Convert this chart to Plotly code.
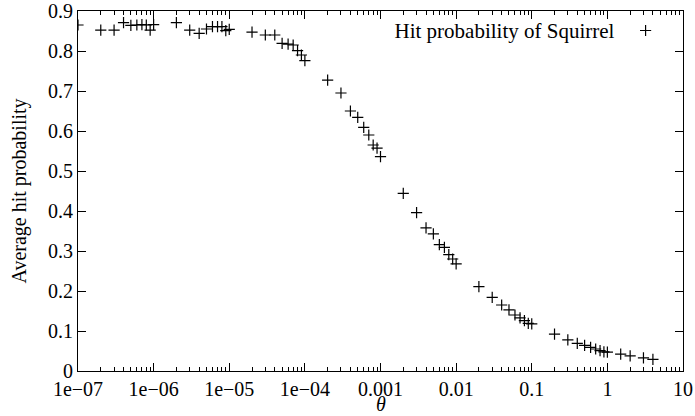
import plotly.graph_objects as go

theta = [
    1e-7, 2e-7, 3e-7, 4e-7, 5e-7, 6e-7, 7e-7, 8e-7, 9e-7,
    1e-6, 2e-6, 3e-6, 4e-6, 5e-6, 6e-6, 7e-6, 8e-6, 9e-6,
    1e-5, 2e-5, 3e-5, 4e-5, 5e-5, 6e-5, 7e-5, 8e-5, 9e-5,
    1e-4, 2e-4, 3e-4, 4e-4, 5e-4, 6e-4, 7e-4, 8e-4, 9e-4,
    1e-3, 2e-3, 3e-3, 4e-3, 5e-3, 6e-3, 7e-3, 8e-3, 9e-3,
    1e-2, 2e-2, 3e-2, 4e-2, 5e-2, 6e-2, 7e-2, 8e-2, 9e-2,
    0.1, 0.2, 0.3, 0.4, 0.5, 0.6, 0.7, 0.8, 0.9,
    1.0, 1.5, 2.0, 3.0, 4.0,
]
hit_prob = [
    0.865, 0.852, 0.852, 0.871, 0.864, 0.865, 0.866, 0.865, 0.852,
    0.866, 0.871, 0.852, 0.844, 0.855, 0.861, 0.861, 0.861, 0.851,
    0.854, 0.847, 0.840, 0.840, 0.819, 0.817, 0.815, 0.801, 0.790,
    0.776, 0.727, 0.695, 0.650, 0.634, 0.609, 0.590, 0.565, 0.557,
    0.536, 0.444, 0.396, 0.358, 0.343, 0.316, 0.309, 0.291, 0.280,
    0.268, 0.211, 0.184, 0.165, 0.153, 0.140, 0.133, 0.126, 0.119,
    0.118, 0.092, 0.078, 0.069, 0.064, 0.059, 0.055, 0.051, 0.048,
    0.047, 0.042, 0.038, 0.033, 0.029,
]

x_tick_vals = [1e-7, 1e-6, 1e-5, 1e-4, 1e-3, 1e-2, 1e-1, 1, 10]
x_tick_text = ["1e\u221207", "1e\u221206", "1e\u221205", "1e\u221204", "0.001", "0.01", "0.1", "1", "10"]
x_minor_vals = [k * 10.0 ** e for e in range(-7, 1) for k in range(2, 10)]
y_tick_vals = [0, 0.1, 0.2, 0.3, 0.4, 0.5, 0.6, 0.7, 0.8, 0.9]
y_tick_text = ["0", "0.1", "0.2", "0.3", "0.4", "0.5", "0.6", "0.7", "0.8", "0.9"]

FONT = "Liberation Serif"

fig = go.Figure()
fig.add_trace(go.Scatter(
    x=theta, y=hit_prob, mode="markers", name="",
    marker=dict(symbol="cross-thin-open", size=8, color="black",
                line=dict(color="black", width=1.2)),
    showlegend=True,
))

fig.update_layout(
    width=695, height=416,
    margin=dict(l=78, r=12, t=11, b=45, autoexpand=False),
    paper_bgcolor="white", plot_bgcolor="white",
    font=dict(family=FONT, size=20, color="black"),
    showlegend=True,
    legend=dict(
        x=0.986, y=1.0, xanchor="right", yanchor="top",
        bgcolor="rgba(0,0,0,0)", borderwidth=0,
        title=dict(text="Hit probability of Squirrel", side="left",
                   font=dict(family=FONT, size=21)),
        font=dict(family=FONT, size=20),
        itemwidth=36,
    ),
    xaxis=dict(
        type="log", range=[-7, 1], automargin=False,
        tickmode="array", tickvals=x_tick_vals, ticktext=x_tick_text,
        ticks="inside", ticklen=8, tickwidth=1, tickcolor="black",
        minor=dict(tickmode="array", tickvals=x_minor_vals, ticks="inside",
                   ticklen=4, tickwidth=1, tickcolor="black", showgrid=False),
        showline=True, linecolor="black", linewidth=1, mirror="ticks",
        showgrid=False, zeroline=False,
        tickfont=dict(family=FONT, size=20),
    ),
    yaxis=dict(
        range=[0, 0.9], automargin=False,
        tickmode="array", tickvals=y_tick_vals, ticktext=y_tick_text,
        ticks="inside", ticklen=8, tickwidth=1, tickcolor="black",
        showline=True, linecolor="black", linewidth=1, mirror="ticks",
        showgrid=False, zeroline=False,
        tickfont=dict(family=FONT, size=20),
        title=dict(text="Average hit probability", font=dict(family=FONT, size=20), standoff=16),
    ),
    annotations=[dict(
        text="<i>\u03b8</i>", xref="paper", yref="paper", x=0.5, y=0,
        xanchor="center", yanchor="middle", yshift=-33, showarrow=False,
        font=dict(family=FONT, size=20),
    )],
)

fig.write_html("out.html", config={"displayModeBar": False},
               post_script="document.body.style.margin='0px';")
